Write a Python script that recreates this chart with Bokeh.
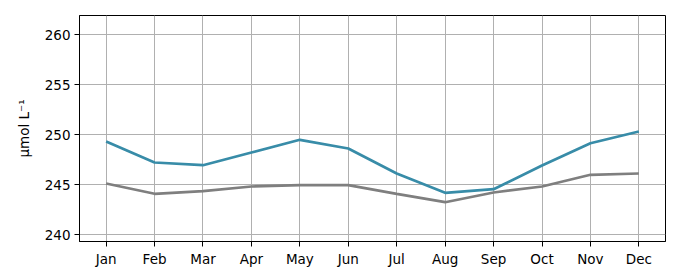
from bokeh.plotting import figure
from bokeh.models import Range1d, FixedTicker
from bokeh.embed import file_html
from bokeh.resources import INLINE

months = ["Jan", "Feb", "Mar", "Apr", "May", "Jun", "Jul", "Aug", "Sep", "Oct", "Nov", "Dec"]
series_blue = [249.33, 247.23, 246.96, 248.23, 249.5, 248.63, 246.13, 244.2, 244.56, 246.93, 249.16, 250.33]
series_gray = [245.13, 244.1, 244.36, 244.83, 244.96, 244.96, 244.1, 243.26, 244.23, 244.83, 246.0, 246.13]
y_ticks = [240, 245, 250, 255, 260]
y_label = "μmol L⁻¹"

x = list(range(len(months)))

p = figure(width=680, height=280, output_backend="svg", toolbar_location=None,
           x_range=Range1d(-0.55, 11.55), y_range=Range1d(239.33, 261.93),
           frame_width=586, frame_height=226,
           min_border_left=79, min_border_top=15, min_border_right=15, min_border_bottom=39)

p.line(x, series_gray, line_color="#7f7f7f", line_width=2.7)
p.line(x, series_blue, line_color="#388ca8", line_width=2.7)

p.xaxis.ticker = FixedTicker(ticks=x)
p.xaxis.major_label_overrides = {i: m for i, m in enumerate(months)}
p.yaxis.ticker = FixedTicker(ticks=y_ticks)
p.yaxis.axis_label = y_label

font = "DejaVu Sans"
for ax in (p.xaxis[0], p.yaxis[0]):
    ax.major_label_text_font = font
    ax.major_label_text_font_size = "13.5px"
    ax.major_label_text_color = "black"
    ax.axis_label_text_font = font
    ax.axis_label_text_font_size = "13.5px"
    ax.axis_label_text_font_style = "normal"
    ax.axis_label_text_color = "black"
    ax.axis_line_color = "black"
    ax.axis_line_width = 1
    ax.major_tick_line_color = "black"
    ax.major_tick_out = 5
    ax.major_tick_in = 0
    ax.minor_tick_line_color = None
    ax.major_label_standoff = 4

p.yaxis.axis_label_standoff = 10

p.xgrid.ticker = FixedTicker(ticks=x)
p.ygrid.ticker = FixedTicker(ticks=y_ticks)
for g in (p.xgrid[0], p.ygrid[0]):
    g.grid_line_color = "#b0b0b0"
    g.grid_line_width = 1

p.outline_line_color = "black"
p.outline_line_width = 1
p.background_fill_color = "white"
p.border_fill_color = "white"

open("out.html", "w").write(file_html(p, INLINE))
